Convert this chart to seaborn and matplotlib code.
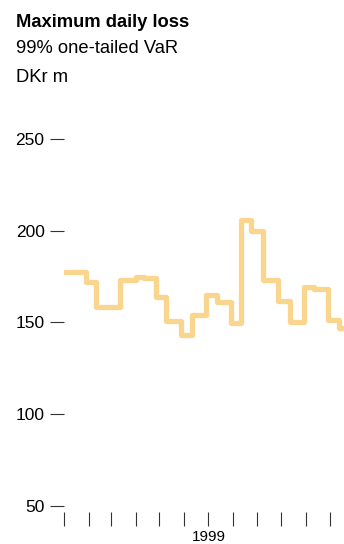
import numpy as np
import pandas as pd
import matplotlib
matplotlib.use("Agg")
import matplotlib.pyplot as plt
import matplotlib.dates as mdates
import seaborn as sns

# step start dates and the loss value holding from that date
dates = ["1999-01-01", "1999-01-29", "1999-02-10", "1999-03-12", "1999-04-01",
         "1999-04-12", "1999-04-27", "1999-05-09", "1999-05-28", "1999-06-11",
         "1999-06-28", "1999-07-12", "1999-07-30", "1999-08-11", "1999-08-24",
         "1999-09-08", "1999-09-27", "1999-10-12", "1999-10-30", "1999-11-11",
         "1999-11-29", "1999-12-13", "1999-12-27"]
var_loss = [177.4, 172, 158.6, 173.4, 174.9, 174, 164, 150.7, 143, 153.8,
            164.7, 161, 149.5, 206, 199.8, 173.4, 161.6, 150.2, 169.5, 168,
            151.3, 147, 147]
y_ticks = [50, 100, 150, 200, 250]
year_label = "1999"

df = pd.DataFrame({"date": pd.to_datetime(dates), "loss": var_loss})

sns.set_style("white")
plt.rcParams["font.family"] = ["Liberation Sans", "DejaVu Sans"]

fig = plt.figure(figsize=(3.44, 5.44), dpi=100)
ax = fig.add_axes([64 / 344, 32 / 544, 1 - 64 / 344, 0.7026])

sns.lineplot(data=df, x="date", y="loss", ax=ax, color="#fad58e",
             linewidth=3.8, drawstyle="steps-post",
             solid_joinstyle="round", solid_capstyle="round")

ax.set_ylim(46.7, 255)
ax.set_xlim(pd.Timestamp("1999-01-01"), pd.Timestamp("1999-01-01") + pd.Timedelta(days=352))
ax.set_yticks(y_ticks)
ax.set_yticklabels([str(v) for v in y_ticks], fontsize=12.5, color="black")
ax.xaxis.set_major_locator(mdates.MonthLocator())
ax.xaxis.set_major_formatter(plt.NullFormatter())
ax.tick_params(axis="both", direction="out", length=10, width=0.8, color="#333333")
ax.tick_params(axis="y", pad=4)
ax.tick_params(axis="both", left=True, bottom=True)
for s in ax.spines.values():
    s.set_visible(False)
ax.set_xlabel("")
ax.set_ylabel("")
ax.grid(False)

ax.text(pd.Timestamp("1999-07-02"), -0.065, year_label, transform=ax.get_xaxis_transform(),
        ha="center", va="center", fontsize=11, color="black")

fig.text(16 / 344, 1 - 27 / 544, "Maximum daily loss", fontsize=13.2, fontweight="bold",
         va="baseline", ha="left", color="black")
fig.text(16 / 344, 1 - 53 / 544, "99% one-tailed VaR", fontsize=13.2, va="baseline",
         ha="left", color="black")
fig.text(16 / 344, 1 - 81.5 / 544, "DKr m", fontsize=13.2, va="baseline", ha="left",
         color="black")

fig.savefig("out.png", dpi=100)
